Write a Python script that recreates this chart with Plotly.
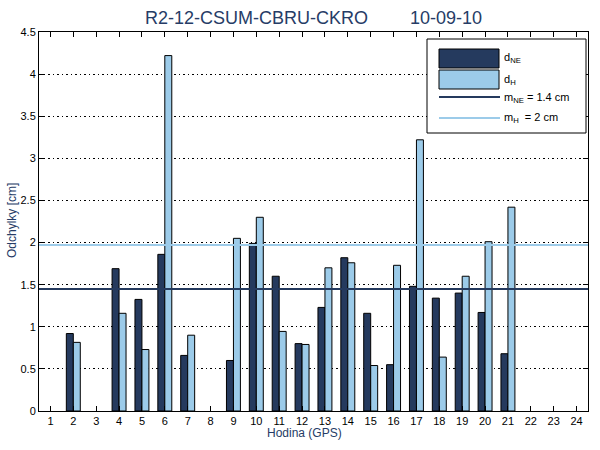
import plotly.graph_objects as go

hours = list(range(1, 25))
d_ne = [None, 0.92, None, 1.69, 1.325, 1.86, 0.66, None, 0.60, 1.99, 1.60, 0.80,
        1.23, 1.82, 1.16, 0.55, 1.48, 1.34, 1.40, 1.17, 0.68, None, None, None]
d_h = [None, 0.815, None, 1.16, 0.73, 4.22, 0.90, None, 2.05, 2.30, 0.945, 0.79,
       1.70, 1.76, 0.54, 1.73, 3.22, 0.64, 1.60, 2.01, 2.42, None, None, None]
m_ne = 1.45
m_h = 1.97
legend_labels = ["d<sub>NE</sub>", "d<sub>H</sub>", "m<sub>NE</sub> = 1.4 cm", "m<sub>H</sub>  = 2 cm"]
title_parts = ["R2-12-CSUM-CBRU-CKRO", "10-09-10"]
x_label = "Hodina (GPS)"
y_label = "Odchylky [cm]"

C_NE = "#253a5e"
C_H = "#9ccbe9"
NAVY = "#263c66"
FONT = "Liberation Sans, Arial, sans-serif"

W, H = 600, 450
L, R, T, B = 39, 12, 32, 39
pw, ph = W - L - R, H - T - B


def px(x):
    return (x - L) / pw


def py(y):
    return (H - B - y) / ph


fig = go.Figure()
fig.add_trace(go.Bar(x=hours, y=d_ne, marker=dict(color=C_NE, line=dict(color="black", width=1)),
                     showlegend=False))
fig.add_trace(go.Bar(x=hours, y=d_h, marker=dict(color=C_H, line=dict(color="black", width=1)),
                     showlegend=False))
fig.add_trace(go.Scatter(x=[0.5, 24.5], y=[m_ne, m_ne], mode="lines",
                         line=dict(color=C_NE, width=2), showlegend=False))
fig.add_trace(go.Scatter(x=[0.5, 24.5], y=[m_h, m_h], mode="lines",
                         line=dict(color=C_H, width=2), showlegend=False))

shapes = []
annotations = []
shapes.append(dict(type="rect", xref="paper", yref="paper", x0=px(427), x1=px(586), y0=py(133), y1=py(39),
                   fillcolor="white", line=dict(color="black", width=1), layer="above"))
shapes.append(dict(type="rect", xref="paper", yref="paper", x0=px(439), x1=px(499), y0=py(68), y1=py(49),
                   fillcolor=C_NE, line=dict(color="black", width=1), layer="above"))
shapes.append(dict(type="rect", xref="paper", yref="paper", x0=px(439), x1=px(499), y0=py(89), y1=py(70),
                   fillcolor=C_H, line=dict(color="black", width=1), layer="above"))
shapes.append(dict(type="line", xref="paper", yref="paper", x0=px(439), x1=px(500), y0=py(97), y1=py(97),
                   line=dict(color=C_NE, width=2), layer="above"))
shapes.append(dict(type="line", xref="paper", yref="paper", x0=px(439), x1=px(500), y0=py(118), y1=py(118),
                   line=dict(color=C_H, width=2), layer="above"))
for lab, yy in zip(legend_labels, [58, 80, 98, 118]):
    annotations.append(dict(text=lab, xref="paper", yref="paper", x=px(502), y=py(yy),
                            xanchor="left", yanchor="middle", showarrow=False,
                            font=dict(family=FONT, size=11, color="black")))

for part, cx in zip(title_parts, [256, 445.5]):
    annotations.append(dict(text=part, xref="paper", yref="paper", x=px(cx), y=py(18),
                            xanchor="center", yanchor="middle", showarrow=False,
                            font=dict(family=FONT, size=18, color=NAVY)))
annotations.append(dict(text=x_label, xref="paper", yref="paper", x=px(304), y=py(433),
                        xanchor="center", yanchor="middle", showarrow=False,
                        font=dict(family=FONT, size=12, color=NAVY)))
annotations.append(dict(text=y_label, xref="paper", yref="paper", x=px(12), y=py(221),
                        xanchor="center", yanchor="middle", showarrow=False, textangle=-90,
                        font=dict(family=FONT, size=12, color=NAVY)))

fig.update_layout(
    width=W, height=H,
    margin=dict(l=L, r=R, t=T, b=B, pad=0),
    paper_bgcolor="white", plot_bgcolor="white",
    barmode="group", bargap=0.39, bargroupgap=0,
    font=dict(family=FONT, size=11, color="black"),
    shapes=shapes, annotations=annotations,
    showlegend=False,
)
fig.update_xaxes(range=[0.5, 24.5], tickmode="array", tickvals=hours, ticktext=[str(h) for h in hours],
                 ticks="inside", ticklen=5, tickcolor="black", showline=True, linecolor="black",
                 linewidth=1, mirror="ticks", showgrid=False, zeroline=False,
                 tickfont=dict(family=FONT, size=11, color="black"))
fig.update_yaxes(range=[0, 4.5], dtick=0.5, tick0=0,
                 ticks="inside", ticklen=5, tickcolor="black", showline=True, linecolor="black",
                 linewidth=1, mirror="ticks", showgrid=True, gridcolor="black", gridwidth=1,
                 griddash="1.5px,3px", zeroline=False,
                 tickfont=dict(family=FONT, size=11, color="black"))

fig.write_html("out.html")
